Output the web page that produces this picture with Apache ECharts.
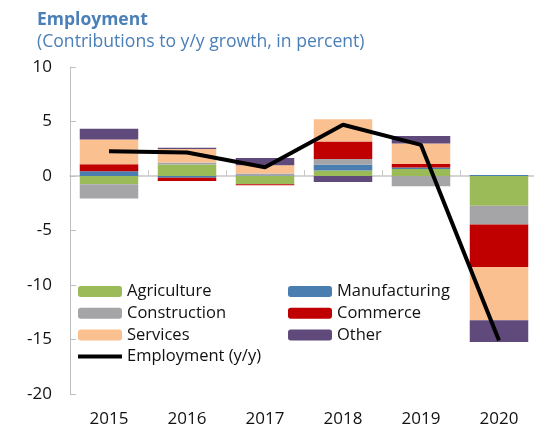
<!DOCTYPE html>
<html>
<head>
<meta charset="utf-8">
<script src="https://cdn.jsdelivr.net/npm/echarts@6/dist/echarts.min.js"></script>
<style>
  html, body { margin: 0; padding: 0; background: #fff; }
  #chart { width: 534px; height: 432px; }
</style>
</head>
<body>
<div id="chart"></div>
<script>
// Contributions to y/y employment growth by sector (percentage points)
const years = ['2015', '2016', '2017', '2018', '2019', '2020'];
const agriculture   = [-0.76,  1.05, -0.76, 0.50,  0.64, -2.72];
const manufacturing = [ 0.44, -0.15,  0.05, 0.55,  0.14,  0.10];
const construction  = [-1.31,  0.20,  0.17, 0.52, -0.94, -1.74];
const commerce      = [ 0.64, -0.30, -0.09, 1.59,  0.32, -3.89];
const services      = [ 2.27,  1.22,  0.76, 2.05,  1.88, -4.89];
const other         = [ 0.98,  0.12,  0.67, -0.55, 0.70, -1.99];
const employment    = [ 2.27,  2.15,  0.80, 4.70,  2.85, -15.1];
const yTicks = { min: -20, max: 10, step: 5 };

const FONT = 'Open Sans';
const titleBlue = '#4a7fb8';

const sectors = [
  { name: 'Agriculture',   data: agriculture,   color: '#9bbb59' },
  { name: 'Manufacturing', data: manufacturing, color: '#4a7eb0' },
  { name: 'Construction',  data: construction,  color: '#a5a5a8' },
  { name: 'Commerce',      data: commerce,      color: '#c00000' },
  { name: 'Services',      data: services,      color: '#fac090' },
  { name: 'Other',         data: other,         color: '#604a7b' }
];

const barSeries = sectors.map(s => ({
  name: s.name,
  type: 'bar',
  stack: 'total',
  xAxisIndex: 0,
  barCategoryGap: '25%',
  itemStyle: { color: s.color },
  emphasis: { disabled: true },
  data: s.data
}));

const lineSeries = {
  name: 'Employment (y/y)',
  type: 'line',
  xAxisIndex: 0,
  symbol: 'none',
  z: 5,
  lineStyle: { color: '#000', width: 4 },
  itemStyle: { color: '#000' },
  data: employment
};

const legendText = { fontFamily: FONT, fontSize: 16.5, color: '#111', lineHeight: 16 };
const legendCommon = {
  orient: 'vertical',
  itemWidth: 44,
  itemHeight: 11,
  itemGap: 4.7,
  padding: 0,
  selectedMode: false,
  textStyle: legendText
};

const chart = echarts.init(document.getElementById('chart'), null, { renderer: 'canvas' });
chart.setOption({
  animation: false,
  backgroundColor: '#fff',
  title: [
    {
      left: 37, top: 11, padding: 0,
      text: 'Employment',
      textStyle: { fontFamily: FONT, fontSize: 17.5, fontWeight: 'bold', color: titleBlue }
    },
    {
      left: 37, top: 33, padding: 0,
      text: '(Contributions to y/y growth, in percent)',
      textStyle: { fontFamily: FONT, fontSize: 17.6, fontWeight: 'normal', color: titleBlue }
    }
  ],
  legend: [
    Object.assign({
      left: 78, top: 283,
      data: ['Agriculture', 'Construction', 'Services',
             { name: 'Employment (y/y)', icon: 'path://M0,0H44V4H0Z' }]
    }, legendCommon),
    Object.assign({ left: 288, top: 283, data: ['Manufacturing', 'Commerce', 'Other'] }, legendCommon)
  ],
  grid: { left: 70, right: -4, top: 67, bottom: 38, outerBoundsMode: 'none', containLabel: false },
  xAxis: [
    {
      type: 'category',
      data: years,
      position: 'bottom',
      axisLine: { onZero: true, lineStyle: { color: '#d4d4d4', width: 2 } },
      axisTick: { show: true, inside: true, length: 6, alignWithLabel: false, lineStyle: { color: '#c8c8c8' } },
      axisLabel: { show: false }
    },
    {
      type: 'category',
      data: years,
      position: 'bottom',
      axisLine: { show: false, onZero: false },
      axisTick: { show: false },
      axisLabel: { show: true, margin: 17, fontFamily: FONT, fontSize: 17, color: '#111' }
    }
  ],
  yAxis: {
    type: 'value',
    min: yTicks.min,
    max: yTicks.max,
    interval: yTicks.step,
    axisLine: { show: true, lineStyle: { color: '#bfbfbf' } },
    axisTick: { show: true, inside: true, length: 6, lineStyle: { color: '#bfbfbf' } },
    splitLine: { show: false },
    axisLabel: { margin: 18, fontFamily: FONT, fontSize: 17, color: '#111' }
  },
  series: barSeries.concat([lineSeries])
});
</script>
</body>
</html>
